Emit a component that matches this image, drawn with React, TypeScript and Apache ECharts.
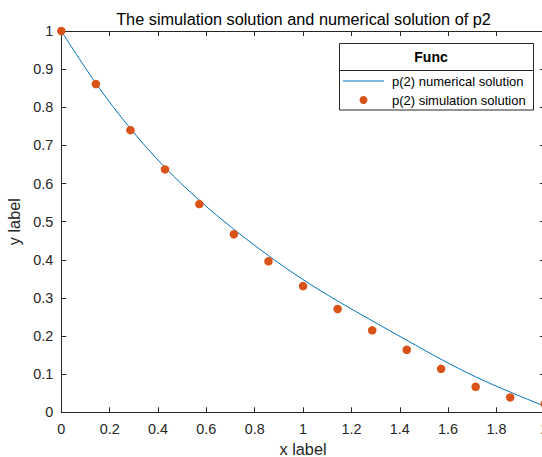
import React, { useEffect, useRef } from "react";
import * as echarts from "echarts";

const titleText = "The simulation solution and numerical solution of p2";
const xAxisName = "x label";
const yAxisName = "y label";
const legendTitle = "Func";
const seriesNames = ["p(2) numerical solution", "p(2) simulation solution"];

// time points (k/7)
const tValues = [0, 0.143, 0.286, 0.429, 0.571, 0.714, 0.857, 1.0, 1.143, 1.286, 1.429, 1.571, 1.714, 1.857, 2.0];
// numerical solution curve
const numericalY = [1, 0.863, 0.744, 0.642, 0.556, 0.48, 0.411, 0.348, 0.292, 0.24, 0.189, 0.139, 0.093, 0.053, 0.016];
// simulation solution points
const simulationY = [1, 0.861, 0.74, 0.637, 0.546, 0.467, 0.396, 0.331, 0.271, 0.215, 0.164, 0.114, 0.067, 0.039, 0.022];

const xRange = { min: 0, max: 2, interval: 0.2 };
const yRange = { min: 0, max: 1, interval: 0.1 };

const FONT = "'Liberation Sans', Arial, Helvetica, sans-serif";
const AXIS = "#262626";
const C1 = "#0072BD";
const C2 = "#D95319";

export default function App() {
  const ref = useRef<HTMLDivElement>(null);
  useEffect(() => {
    if (!ref.current) return;
    const chart = echarts.init(ref.current, null, { renderer: "svg" });
    const gridLeft = 61.3;
    const gridTop = 31;
    const gridW = 483.5;
    const gridH = 381.3;

    const baseAxis = (extra: any) => ({
      type: "value",
      splitLine: { show: false },
      axisLine: { show: true, onZero: false, lineStyle: { color: AXIS, width: 1 } },
      axisTick: { show: true, inside: true, length: 5, lineStyle: { color: AXIS, width: 1 } },
      ...extra,
    });

    const legendBox = { x: 339.5, y: 43.5, w: 194, h: 66.5, sep: 70.5 };

    chart.setOption({
      animation: false,
      backgroundColor: "#ffffff",
      textStyle: { fontFamily: FONT },
      grid: {
        left: gridLeft,
        top: gridTop,
        width: gridW,
        height: gridH,
        containLabel: false,
        outerBoundsMode: "none",
      },
      xAxis: [
        baseAxis({
          ...xRange,
          position: "bottom",
          axisLabel: { color: AXIS, fontSize: 14.4, margin: 10, fontFamily: FONT },
          name: xAxisName,
          nameLocation: "middle",
          nameGap: 28,
          nameTextStyle: { color: AXIS, fontSize: 16.3, fontFamily: FONT },
        }),
        baseAxis({ ...xRange, position: "top", axisLabel: { show: false } }),
      ],
      yAxis: [
        baseAxis({
          ...yRange,
          position: "left",
          axisLabel: { color: AXIS, fontSize: 14.4, margin: 8, fontFamily: FONT },
          name: yAxisName,
          nameLocation: "middle",
          nameGap: 33,
          nameTextStyle: { color: AXIS, fontSize: 16.3, fontFamily: FONT },
        }),
        baseAxis({ ...yRange, position: "right", axisLabel: { show: false } }),
      ],
      legend: {
        orient: "vertical",
        left: 343,
        top: 74.5,
        padding: 0,
        itemGap: 6,
        itemWidth: 41,
        itemHeight: 8,
        textStyle: { color: "#000", fontSize: 13, fontFamily: FONT, padding: [0, 0, 0, 3] },
        data: [
          { name: seriesNames[0], icon: "path://M0,0 H41 V1 H0 Z", itemStyle: { color: C1 } },
          { name: seriesNames[1], icon: "circle" },
        ],
      },
      graphic: [
        {
          type: "text",
          x: 303.5,
          y: 18.6,
          style: {
            text: titleText,
            fill: "#000",
            fontSize: 16.3,
            fontFamily: FONT,
            align: "center",
            verticalAlign: "middle",
          },
        },
        {
          type: "rect",
          z: 3,
          shape: { x: legendBox.x, y: legendBox.y, width: legendBox.w, height: legendBox.h },
          style: { fill: "#fff", stroke: AXIS, lineWidth: 1 },
        },
        {
          type: "line",
          z: 3,
          shape: { x1: legendBox.x, y1: legendBox.sep, x2: legendBox.x + legendBox.w, y2: legendBox.sep },
          style: { stroke: AXIS, lineWidth: 1 },
        },
        {
          type: "text",
          z: 3,
          x: 431,
          y: 57.3,
          style: {
            text: legendTitle,
            fill: "#000",
            fontSize: 14,
            fontWeight: "bold",
            fontFamily: FONT,
            align: "center",
            verticalAlign: "middle",
          },
        },
      ],
      series: [
        {
          name: seriesNames[0],
          type: "line",
          xAxisIndex: 0,
          yAxisIndex: 0,
          data: tValues.map((t, i) => [t, numericalY[i]]),
          smooth: 0.35,
          symbol: "none",
          lineStyle: { color: C1, width: 1 },
          itemStyle: { color: C1 },
          z: 2,
        },
        {
          name: seriesNames[1],
          type: "scatter",
          xAxisIndex: 0,
          yAxisIndex: 0,
          data: tValues.map((t, i) => [t, simulationY[i]]),
          symbol: "circle",
          symbolSize: 8.5,
          itemStyle: { color: C2, opacity: 1 },
          clip: false,
          z: 3,
        },
      ],
    });
    return () => chart.dispose();
  }, []);

  return (
    <div style={{ position: "fixed", left: 0, top: 0, width: 542, height: 457, overflow: "hidden", background: "#fff" }}>
      <div ref={ref} style={{ width: 552, height: 457 }} />
    </div>
  );
}
